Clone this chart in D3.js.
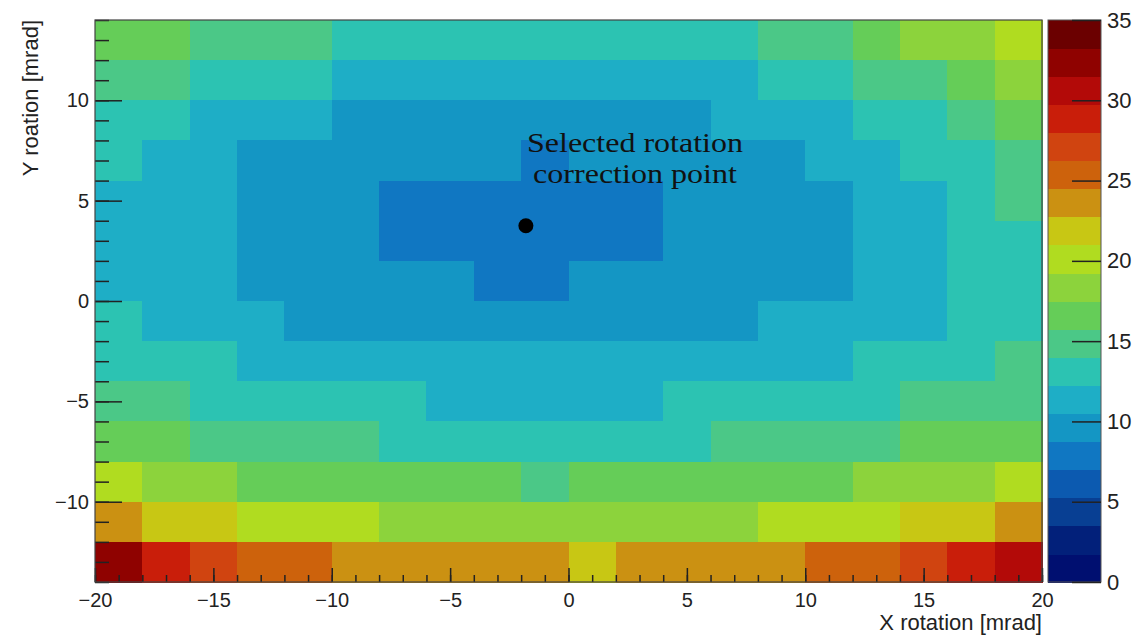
<!DOCTYPE html>
<html>
<head>
<meta charset="utf-8">
<script src="https://cdn.jsdelivr.net/npm/d3@7"></script>
<style>
  body { margin: 0; background: #fff; }
  svg { display: block; }
  .axis text { font-family: "Liberation Sans", Arial, sans-serif; fill: #222; }
  .axis line { stroke: #222; stroke-width: 1.5; }
  .axis path { display: none; }
  .cells rect, .bar rect { shape-rendering: crispEdges; }
</style>
</head>
<body>
<div id="chart"></div>
<script>
/*global d3*/
(function () {
  "use strict";

  // lower edges of the 2 mrad bins
  var xBins = [-20, -18, -16, -14, -12, -10, -8, -6, -4, -2, 0, 2, 4, 6, 8, 10, 12, 14, 16, 18];
  var yBins = [12, 10, 8, 6, 4, 2, 0, -2, -4, -6, -8, -10, -12, -14];
  var binWidth = 2;

  // one row per y bin (top row first), one value per x bin
  var zValues = [
    [16.6, 16.6, 14.9, 14.9, 14.9, 13.1, 13.1, 13.1, 13.1, 13.1, 13.1, 13.1, 13.1, 13.1, 14.9, 14.9, 16.6, 18.4, 18.4, 20.1],
    [14.9, 14.9, 13.1, 13.1, 13.1, 11.4, 11.4, 11.4, 11.4, 11.4, 11.4, 11.4, 11.4, 11.4, 13.1, 13.1, 14.9, 14.9, 16.6, 18.4],
    [13.1, 13.1, 11.4, 11.4, 11.4, 9.6, 9.6, 9.6, 9.6, 9.6, 9.6, 9.6, 9.6, 11.4, 11.4, 11.4, 13.1, 13.1, 14.9, 16.6],
    [13.1, 11.4, 11.4, 9.6, 9.6, 9.6, 9.6, 9.6, 9.6, 7.9, 9.6, 9.6, 9.6, 9.6, 9.6, 11.4, 11.4, 13.1, 13.1, 14.9],
    [11.4, 11.4, 11.4, 9.6, 9.6, 9.6, 7.9, 7.9, 7.9, 7.9, 7.9, 7.9, 9.6, 9.6, 9.6, 9.6, 11.4, 11.4, 13.1, 14.9],
    [11.4, 11.4, 11.4, 9.6, 9.6, 9.6, 7.9, 7.9, 7.9, 7.9, 7.9, 7.9, 9.6, 9.6, 9.6, 9.6, 11.4, 11.4, 13.1, 13.1],
    [11.4, 11.4, 11.4, 9.6, 9.6, 9.6, 9.6, 9.6, 7.9, 7.9, 9.6, 9.6, 9.6, 9.6, 9.6, 9.6, 11.4, 11.4, 13.1, 13.1],
    [13.1, 11.4, 11.4, 11.4, 9.6, 9.6, 9.6, 9.6, 9.6, 9.6, 9.6, 9.6, 9.6, 9.6, 11.4, 11.4, 11.4, 11.4, 13.1, 13.1],
    [13.1, 13.1, 13.1, 11.4, 11.4, 11.4, 11.4, 11.4, 11.4, 11.4, 11.4, 11.4, 11.4, 11.4, 11.4, 11.4, 13.1, 13.1, 13.1, 14.9],
    [14.9, 14.9, 13.1, 13.1, 13.1, 13.1, 13.1, 11.4, 11.4, 11.4, 11.4, 11.4, 13.1, 13.1, 13.1, 13.1, 13.1, 14.9, 14.9, 14.9],
    [16.6, 16.6, 14.9, 14.9, 14.9, 14.9, 13.1, 13.1, 13.1, 13.1, 13.1, 13.1, 13.1, 14.9, 14.9, 14.9, 14.9, 16.6, 16.6, 16.6],
    [20.1, 18.4, 18.4, 16.6, 16.6, 16.6, 16.6, 16.6, 16.6, 14.9, 16.6, 16.6, 16.6, 16.6, 16.6, 16.6, 18.4, 18.4, 18.4, 20.1],
    [23.6, 21.9, 21.9, 20.1, 20.1, 20.1, 18.4, 18.4, 18.4, 18.4, 18.4, 18.4, 18.4, 18.4, 20.1, 20.1, 20.1, 21.9, 21.9, 23.6],
    [32.4, 28.9, 27.1, 25.4, 25.4, 23.6, 23.6, 23.6, 23.6, 23.6, 21.9, 23.6, 23.6, 23.6, 23.6, 25.4, 25.4, 27.1, 28.9, 30.6]
  ];

  var palette = ["#000f70", "#02207a", "#083f93", "#0c5ab0", "#1077c2", "#1496c4", "#1eaec6",
    "#2cc3b2", "#4bc887", "#65cd58", "#8cd33c", "#b0dc20", "#c8c714", "#cb9112", "#cd620c",
    "#d04410", "#c91e0a", "#b30a08", "#8f0200", "#6b0000"];
  var zTicks = [0, 5, 10, 15, 20, 25, 30, 35];
  var xMajorTicks = [-20, -15, -10, -5, 0, 5, 10, 15, 20];
  var yMajorTicks = [-10, -5, 0, 5, 10];
  var selectedPoint = {x: -1.8, y: 3.75};
  var noteLines = ["Selected rotation", "correction point"];

  var width = 1137, height = 637;
  var left = 95, right = 1042, top = 20, bottom = 582;
  var barLeft = 1048, barRight = 1101;

  var svg = d3.select("#chart").append("svg")
    .attr("width", width).attr("height", height);

  var x = d3.scaleLinear().domain([-20, 20]).range([left, right]);
  var y = d3.scaleLinear().domain([-14, 14]).range([bottom, top]);
  var z = d3.scaleLinear().domain([0, 35]).range([bottom, top]);
  var color = d3.scaleQuantize().domain([0, 35]).range(palette);

  var cells = [];
  zValues.forEach(function (row, i) {
    row.forEach(function (v, j) {
      cells.push({x0: xBins[j], y0: yBins[i], v: v});
    });
  });

  svg.append("g").attr("class", "cells").selectAll("rect").data(cells).join("rect")
    .attr("x", function (d) { return x(d.x0); })
    .attr("y", function (d) { return y(d.y0 + binWidth); })
    .attr("width", function (d) { return x(d.x0 + binWidth) - x(d.x0) + 0.6; })
    .attr("height", function (d) { return y(d.y0) - y(d.y0 + binWidth) + 0.6; })
    .attr("fill", function (d) { return color(d.v); });

  // minor ticks every 1 mrad, major every 5
  var xMinor = d3.axisBottom(x).ticks(40).tickSizeInner(-7).tickSizeOuter(0).tickFormat("");
  var xMajor = d3.axisBottom(x).tickValues(xMajorTicks).tickSizeInner(-14).tickSizeOuter(0).tickPadding(11);
  var yMinor = d3.axisLeft(y).ticks(28).tickSizeInner(-14).tickSizeOuter(0).tickFormat("");
  var yMajor = d3.axisLeft(y).tickValues(yMajorTicks).tickSizeInner(-27).tickSizeOuter(0).tickPadding(6);

  svg.append("g").attr("class", "axis").attr("transform", "translate(0," + bottom + ")").call(xMinor);
  svg.append("g").attr("class", "axis").attr("transform", "translate(0," + bottom + ")").call(xMajor)
    .selectAll("text").style("font-size", "20px");
  svg.append("g").attr("class", "axis").attr("transform", "translate(" + left + ",0)").call(yMinor);
  svg.append("g").attr("class", "axis").attr("transform", "translate(" + left + ",0)").call(yMajor)
    .selectAll("text").style("font-size", "20px");

  svg.append("rect")
    .attr("x", left).attr("y", top)
    .attr("width", right - left).attr("height", bottom - top)
    .attr("fill", "none").attr("stroke", "#444").attr("stroke-width", 1.2);

  // colour bar
  var step = 35 / palette.length;
  svg.append("g").attr("class", "bar").selectAll("rect").data(palette).join("rect")
    .attr("x", barLeft)
    .attr("y", function (d, i) { return z((i + 1) * step); })
    .attr("width", barRight - barLeft)
    .attr("height", function (d, i) { return z(i * step) - z((i + 1) * step) + 0.6; })
    .attr("fill", function (d) { return d; });
  svg.append("rect")
    .attr("x", barLeft).attr("y", top)
    .attr("width", barRight - barLeft).attr("height", bottom - top)
    .attr("fill", "none").attr("stroke", "#555").attr("stroke-width", 1);
  svg.append("g").attr("class", "axis").attr("transform", "translate(" + barRight + ",0)")
    .call(d3.axisRight(z).tickValues(zTicks).tickSizeInner(-29).tickSizeOuter(0).tickPadding(6))
    .selectAll("text").style("font-size", "22px");

  // axis titles
  svg.append("text")
    .attr("x", right).attr("y", 630)
    .attr("text-anchor", "end")
    .style("font-family", "'Liberation Sans', Arial, sans-serif")
    .style("font-size", "22px").style("fill", "#222")
    .text("X rotation [mrad]");
  svg.append("text")
    .attr("transform", "translate(38," + top + ") rotate(-90)")
    .attr("text-anchor", "end")
    .style("font-family", "'Liberation Sans', Arial, sans-serif")
    .style("font-size", "22px").style("fill", "#222")
    .text("Y roation [mrad]");

  // selected point and its note (glyphs stretched a little to the wider TeX face)
  svg.append("circle")
    .attr("cx", x(selectedPoint.x)).attr("cy", y(selectedPoint.y))
    .attr("r", 7.5).attr("fill", "#000");
  svg.append("g").selectAll("text").data(noteLines).join("text")
    .attr("x", 635)
    .attr("y", function (d, i) { return 152 + i * 31; })
    .attr("text-anchor", "middle")
    .attr("textLength", function (d, i) { return i === 0 ? 216 : 204; })
    .attr("lengthAdjust", "spacingAndGlyphs")
    .style("font-family", "'Liberation Serif', 'Times New Roman', serif")
    .style("font-size", "27px").style("fill", "#111")
    .text(function (d) { return d; });
}());
</script>
</body>
</html>
